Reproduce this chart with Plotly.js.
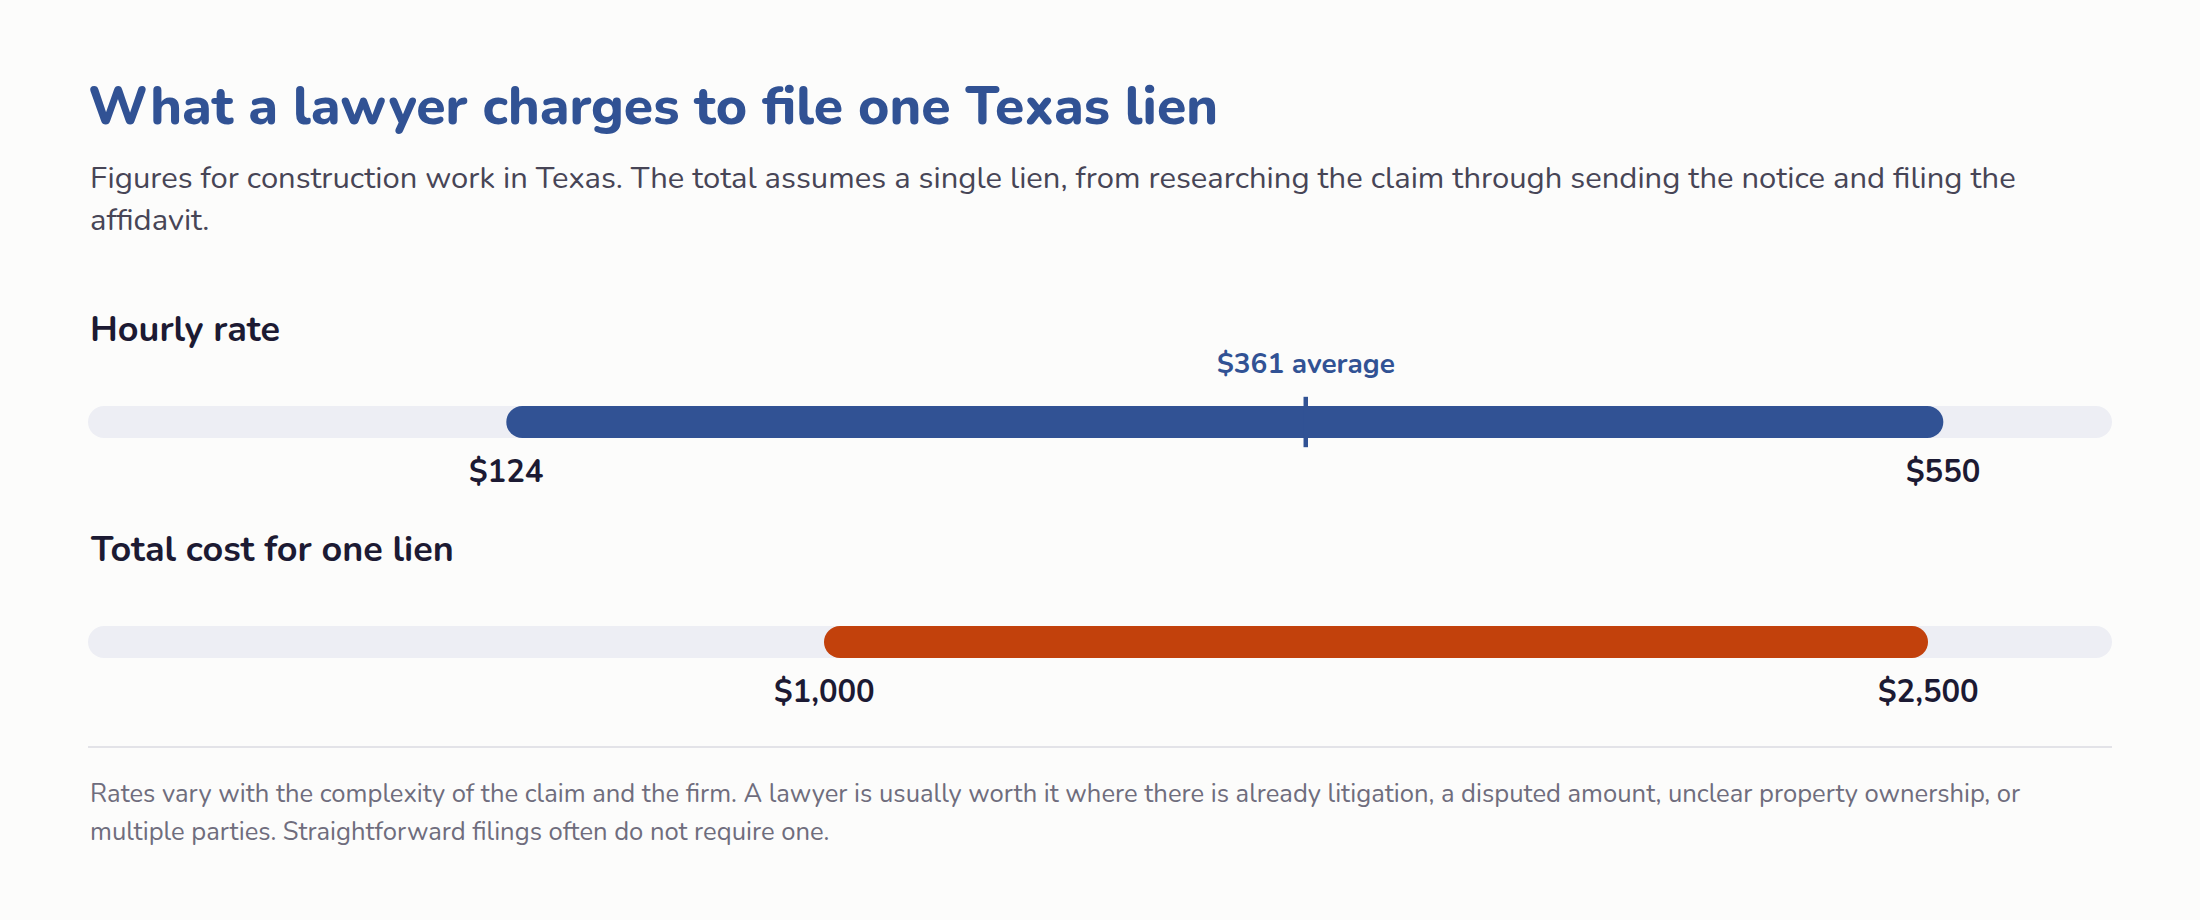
<!DOCTYPE html>
<html>
<head>
<meta charset="utf-8">
<script src="https://cdn.plot.ly/plotly-3.0.1.min.js"></script>
<style>
  html, body { margin: 0; padding: 0; background: #fcfcfb; }
  #chart { width: 2200px; height: 920px; }
</style>
</head>
<body>
<div id="chart"></div>
<script>
// ranges
const rateScale = [0, 600];
const rateRange = [124, 550];
const rateAverage = 361;
const totalScale = [0, 2750];
const totalRange = [1000, 2500];

const titleText = "What a lawyer charges to file one Texas lien";
const subtitleLines = [
  "Figures for construction work in Texas. The total assumes a single lien, from researching the claim through sending the notice and filing the",
  "affidavit.",
];
const rowTitles = ["Hourly rate", "Total cost for one lien"];
const footnoteLines = [
  "Rates vary with the complexity of the claim and the firm. A lawyer is usually worth it where there is already litigation, a disputed amount, unclear property ownership, or",
  "multiple parties. Straightforward filings often do not require one.",
];

const W = 2200, H = 920;
const FONT = "Nunito, Lato, 'Noto Sans', sans-serif";
const BLUE = "#315294";
const ORANGE = "#c2410c";
const TRACK = "#edeef4";
const INK = "#1c1a33";

const py = (px) => 1 - px / H;
const money = (v) => "$" + v.toLocaleString("en-US");

// rounded range bar (cornerradius rounds both ends when a base is given)
function pill(range, color, xa, ya) {
  return {
    type: "bar", orientation: "h", y: [0], x: [range[1] - range[0]], base: [range[0]], width: 32,
    marker: { color, cornerradius: 16, line: { width: 0 } },
    xaxis: xa, yaxis: ya, hoverinfo: "skip", showlegend: false,
  };
}

const traces = [
  pill(rateScale, TRACK, "x", "y"),
  pill(rateRange, BLUE, "x", "y"),
  pill(totalScale, TRACK, "x2", "y2"),
  pill(totalRange, ORANGE, "x2", "y2"),
  {
    type: "scatter", mode: "markers", x: [rateAverage], y: [0], xaxis: "x", yaxis: "y",
    marker: { symbol: "line-ns", size: 36, line: { width: 4.5, color: BLUE } },
    hoverinfo: "skip", showlegend: false, cliponaxis: false,
  },
];

function rangeLabels(range, xref, yref) {
  return range.map((v) => ({
    x: v, y: -50, xref, yref, text: money(v), showarrow: false, yanchor: "middle",
    font: { family: FONT, size: 31, color: INK, weight: 700 },
  }));
}

const annotations = [
  ...subtitleLines.map((t, i) => ({
    x: 0, xref: "paper", xanchor: "left", y: py(178 + i * 42), yref: "paper", yanchor: "middle",
    text: t, showarrow: false, align: "left",
    font: { family: FONT, size: 31, color: "#474556" },
  })),
  ...rowTitles.map((t, i) => ({
    x: 0, xref: "paper", xanchor: "left", y: py([329, 549][i]), yref: "paper", yanchor: "middle",
    text: t, showarrow: false, font: { family: FONT, size: 36, color: INK, weight: 700 },
  })),
  ...rangeLabels(rateRange, "x", "y"),
  ...rangeLabels(totalRange, "x2", "y2"),
  {
    x: rateAverage, y: 58, xref: "x", yref: "y", text: money(rateAverage) + " average",
    showarrow: false, yanchor: "middle", font: { family: FONT, size: 28, color: BLUE, weight: 700 },
  },
  ...footnoteLines.map((t, i) => ({
    x: 0, xref: "paper", xanchor: "left", y: py(793 + i * 38), yref: "paper", yanchor: "middle",
    text: t, showarrow: false, align: "left",
    font: { family: FONT, size: 25.6, color: "#6f6d7d" },
  })),
];

const hiddenX = { visible: false, fixedrange: true };
const hiddenY = { visible: false, fixedrange: true, range: [-80, 80] };

const layout = {
  width: W, height: H,
  margin: { l: 88, r: 88, t: 0, b: 0 },
  paper_bgcolor: "#fcfcfb", plot_bgcolor: "rgba(0,0,0,0)",
  barmode: "overlay",
  title: {
    text: titleText, x: 0, xref: "paper", xanchor: "left",
    y: py(105), yref: "container", yanchor: "middle",
    font: { family: FONT, size: 53.4, color: BLUE, weight: 800 },
  },
  xaxis: { ...hiddenX, range: rateScale, domain: [0, 1], anchor: "y" },
  yaxis: { ...hiddenY, domain: [py(502), py(342)], anchor: "x" },
  xaxis2: { ...hiddenX, range: totalScale, domain: [0, 1], anchor: "y2" },
  yaxis2: { ...hiddenY, domain: [py(722), py(562)], anchor: "x2" },
  shapes: [{
    type: "line", xref: "paper", yref: "paper", x0: 0, x1: 1, y0: py(747), y1: py(747),
    line: { color: "#e3e3e8", width: 2 },
  }],
  annotations,
  showlegend: false,
};

Plotly.newPlot("chart", traces, layout, { displayModeBar: false, staticPlot: true });
</script>
</body>
</html>
